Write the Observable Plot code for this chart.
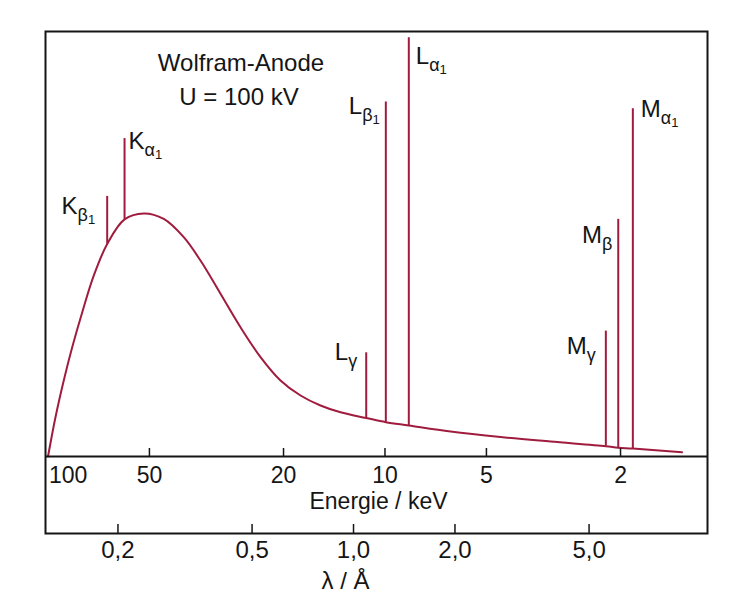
<!DOCTYPE html>
<html>
<head>
<meta charset="utf-8">
<script src="https://cdn.jsdelivr.net/npm/d3@7"></script>
<script src="https://cdn.jsdelivr.net/npm/@observablehq/plot@0.6"></script>
<style>
  html, body { margin: 0; padding: 0; background: #ffffff; }
  #chart svg { display: block; }
</style>
</head>
<body>
<div id="chart"></div>
<script>
// E [keV] = HC / λ [Å]
const HC = 12.398;

// Continuous bremsstrahlung spectrum: wavelength in Å, relative intensity
const curveLambda = [0.124, 0.1305, 0.1381, 0.1463, 0.1567, 0.1696, 0.1858, 0.2092, 0.2385, 0.2735,
  0.3135, 0.3515, 0.4030, 0.4621, 0.5297, 0.6072, 0.6963, 0.7981, 0.9152, 1.0906,
  1.247, 1.459, 1.941, 2.731, 3.842, 5.607, 6.103, 6.743, 9.437];
const curveIntensity = [0, 9.25, 17.9, 25.7, 33.95, 42.6, 50.0, 55.8, 57.2, 55.9,
  51.6, 46.1, 38.3, 30.4, 23.4, 17.9, 14.35, 12.0, 10.4, 9.06,
  8.07, 7.29, 5.88, 4.59, 3.53, 2.42, 2.05, 1.88, 1.01];

// Characteristic lines
const lineNames = ["Kβ1", "Kα1", "Lγ", "Lβ1", "Lα1", "Mγ", "Mβ", "Mα1"];
const lineLambda = [0.1858, 0.2092, 1.0906, 1.247, 1.459, 5.607, 6.103, 6.743];
const lineBase = [50.0, 55.8, 9.06, 8.07, 7.29, 2.42, 2.05, 1.88];
const linePeak = [61.2, 74.8, 24.4, 83.4, 98.5, 29.5, 55.8, 81.8];

// Axes
const energyTicks = [100, 50, 20, 10, 5, 2];
const lambdaTicks = [0.2, 0.5, 1.0, 2.0, 5.0];
const lambdaTickLabels = ["0,2", "0,5", "1,0", "2,0", "5,0"];
const titleLines = ["Wolfram-Anode", "U = 100 kV"];
const energyLabel = "Energie / keV";
const lambdaLabel = "λ / Å";
const xDomain = [0.1219, 11.23];
const yDomain = [-18.12, 100];

// label placement (style)
const labelLayout = [
  {anchor: "end", dx: -12, dy: 18},
  {anchor: "start", dx: 4, dy: 10},
  {anchor: "end", dx: -9, dy: 7},
  {anchor: "end", dx: -6, dy: 12},
  {anchor: "start", dx: 7, dy: 26},
  {anchor: "end", dx: -10, dy: 23},
  {anchor: "end", dx: -6, dy: 24},
  {anchor: "start", dx: 8, dy: 8}
];

const RED = "#a01c3e";
const INK = "#151515";
const FONT = "'Liberation Sans', Arial, Helvetica, sans-serif";
const FS = 24;
const FS_E = 23;

const curve = curveLambda.map((l, i) => ({lambda: l, I: curveIntensity[i]}));
const lines = lineNames.map((n, i) => ({name: n, lambda: lineLambda[i], base: lineBase[i], peak: linePeak[i]}));
const lambdaTickData = lambdaTicks.map((l, i) => ({lambda: l, label: lambdaTickLabels[i]}));

const labelMarks = lines.map((d, i) => Plot.text([d], {
  x: "lambda", y: "peak", text: "name",
  textAnchor: labelLayout[i].anchor, lineAnchor: "bottom",
  dx: labelLayout[i].dx, dy: labelLayout[i].dy,
  fontSize: FS, fill: INK
}));

const svg = Plot.plot({
  width: 729,
  height: 594,
  marginTop: 31,
  marginLeft: 45,
  marginRight: 22,
  marginBottom: 61,
  style: {fontFamily: FONT, background: "#ffffff", color: INK},
  x: {type: "log", domain: xDomain, axis: null},
  y: {domain: yDomain, axis: null},
  marks: [
    // continuum and lines
    Plot.line(curve, {x: "lambda", y: "I", stroke: RED, strokeWidth: 2, curve: "catmull-rom"}),
    Plot.ruleX(lines, {x: "lambda", y1: "base", y2: "peak", stroke: RED, strokeWidth: 2}),
    ...labelMarks,
    // frame and energy axis line
    Plot.frame({stroke: INK, strokeWidth: 2}),
    Plot.ruleY([0], {stroke: INK, strokeWidth: 2}),
    // energy axis ticks & labels
    Plot.tickX(energyTicks.filter(e => e < 100), {x: e => HC / e, insetTop: 417, insetBottom: 77, stroke: INK, strokeWidth: 1.5}),
    Plot.text(energyTicks.filter(e => e < 100), {x: e => HC / e, y: 0, text: e => String(e), lineAnchor: "bottom", dy: 26.5, fontSize: FS_E, fill: INK}),
    Plot.text(energyTicks.filter(e => e >= 100), {x: e => HC / e, y: 0, text: e => String(e), textAnchor: "start", lineAnchor: "bottom", dx: 1, dy: 26.5, fontSize: FS_E, fill: INK}),
    Plot.text([energyLabel], {frameAnchor: "bottom", text: d => d, lineAnchor: "bottom", dx: 2, dy: -24.5, fontSize: FS_E, fill: INK}),
    // wavelength axis ticks & labels
    Plot.tickX(lambdaTickData, {x: "lambda", insetTop: 493, stroke: INK, strokeWidth: 1.5}),
    Plot.text(lambdaTickData, {x: "lambda", frameAnchor: "bottom", text: "label", lineAnchor: "bottom", dy: 24.5, fontSize: FS, fill: INK}),
    Plot.text([lambdaLabel], {frameAnchor: "bottom", text: d => d, lineAnchor: "bottom", dx: -31, dy: 55, fontSize: FS, fill: INK}),
    // title
    Plot.text([titleLines[0]], {frameAnchor: "top", text: d => d, lineAnchor: "bottom", dx: -135.5, dy: 39, fontSize: FS, fill: INK}),
    Plot.text([titleLines[1]], {frameAnchor: "top", text: d => d, lineAnchor: "bottom", dx: -137.5, dy: 73, fontSize: FS, fill: INK})
  ]
});

// subscripts for the line labels (e.g. K β 1)
d3.select(svg).selectAll("text")
  .filter(function () { return lineNames.includes(this.textContent); })
  .each(function () {
    const s = Array.from(this.textContent);
    const t = d3.select(this);
    t.text("");
    t.append("tspan").text(s[0]);
    t.append("tspan").attr("font-size", 18).attr("dy", 7).text(s[1]);
    if (s.length > 2) t.append("tspan").attr("font-size", 13).attr("dy", 3).text(s.slice(2).join(""));
  });

document.getElementById("chart").appendChild(svg);
</script>
</body>
</html>
